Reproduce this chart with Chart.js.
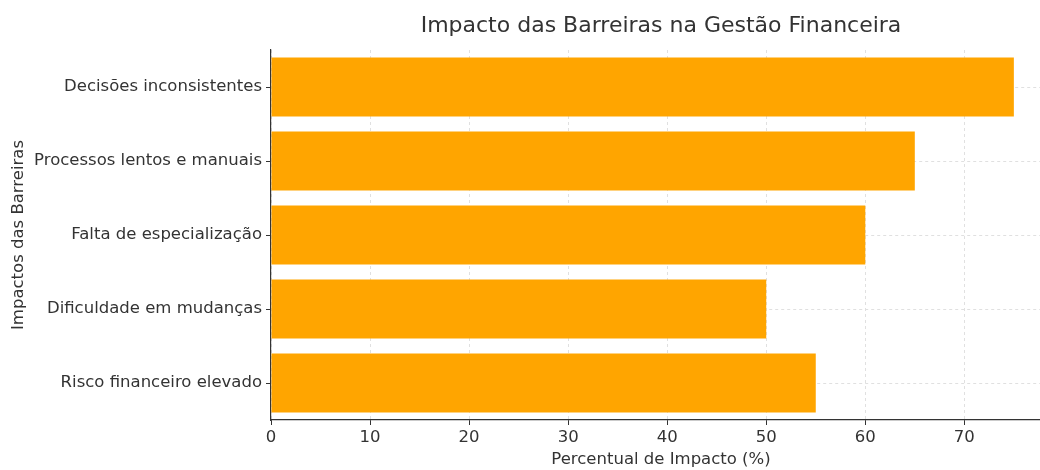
<!DOCTYPE html>
<html>
<head>
<meta charset="utf-8">
<script src="https://cdn.jsdelivr.net/npm/chart.js@4.4.1/dist/chart.umd.min.js"></script>
<style>
  html, body { margin: 0; padding: 0; background: #fff; overflow: hidden; }
  #wrap { width: 1040px; height: 470px; overflow: hidden; }
  #box { width: 1060px; height: 470px; }
</style>
</head>
<body>
<div id="wrap"><div id="box"><canvas id="chart"></canvas></div></div>
<script>
const categories = [
    'Decisões inconsistentes',
    'Processos lentos e manuais',
    'Falta de especialização',
    'Dificuldade em mudanças',
    'Risco financeiro elevado'
];
const impactValues = [75, 65, 60, 50, 55];
const xTicks = [0, 10, 20, 30, 40, 50, 60, 70];

const chartTitle = 'Impacto das Barreiras na Gestão Financeira';
const textColor = '#333333';
const fontFamily = '"DejaVu Sans", sans-serif';

// title is centred over the plot area, not the canvas
const titlePlugin = {
    id: 'plotTitle',
    afterDraw(chart) {
        const { ctx, chartArea } = chart;
        ctx.save();
        ctx.font = '22px ' + fontFamily;
        ctx.fillStyle = textColor;
        ctx.textAlign = 'center';
        ctx.textBaseline = 'middle';
        ctx.fillText(chartTitle, (chartArea.left + chartArea.right) / 2, 26);
        ctx.restore();
    }
};

const ctx = document.getElementById('chart').getContext('2d');
new Chart(ctx, {
    type: 'bar',
    data: {
        labels: categories,
        datasets: [{
            data: impactValues,
            backgroundColor: '#FFA500',
            borderWidth: 0,
            barPercentage: 0.8,
            categoryPercentage: 1.0
        }]
    },
    options: {
        indexAxis: 'y',
        responsive: true,
        maintainAspectRatio: false,
        animation: false,
        layout: { padding: { top: 50, right: 9, left: 0, bottom: 0 } },
        plugins: {
            legend: { display: false },
            tooltip: { enabled: false },
            title: { display: false }
        },
        scales: {
            x: {
                type: 'linear',
                min: 0,
                max: 78.75,
                afterBuildTicks(scale) {
                    scale.ticks = xTicks.map(v => ({ value: v }));
                },
                afterFit(scale) { scale.height = 50; },
                ticks: {
                    color: textColor,
                    font: { family: fontFamily, size: 16.5 },
                    padding: 3
                },
                grid: {
                    color: '#e0e0e0',
                    tickColor: '#333333',
                    tickLength: 5,
                    tickBorderDash: []
                },
                border: { display: true, color: '#333333', width: 1.2, dash: [3, 3] },
                title: {
                    display: true,
                    text: 'Percentual de Impacto (%)',
                    color: textColor,
                    font: { family: fontFamily, size: 16.5 },
                    padding: { top: 0, bottom: 0 }
                }
            },
            y: {
                afterFit(scale) { scale.width = 271; },
                ticks: {
                    color: textColor,
                    font: { family: fontFamily, size: 16.5 },
                    padding: 4
                },
                grid: {
                    offset: false,
                    color: '#e0e0e0',
                    tickColor: '#333333',
                    tickLength: 5,
                    tickBorderDash: []
                },
                border: { display: true, color: '#333333', width: 1.2, dash: [3, 3] },
                title: {
                    display: true,
                    text: 'Impactos das Barreiras',
                    color: textColor,
                    font: { family: fontFamily, size: 16.5 },
                    padding: { top: 9, bottom: 0 }
                }
            }
        }
    },
    plugins: [titlePlugin]
});
</script>
</body>
</html>
